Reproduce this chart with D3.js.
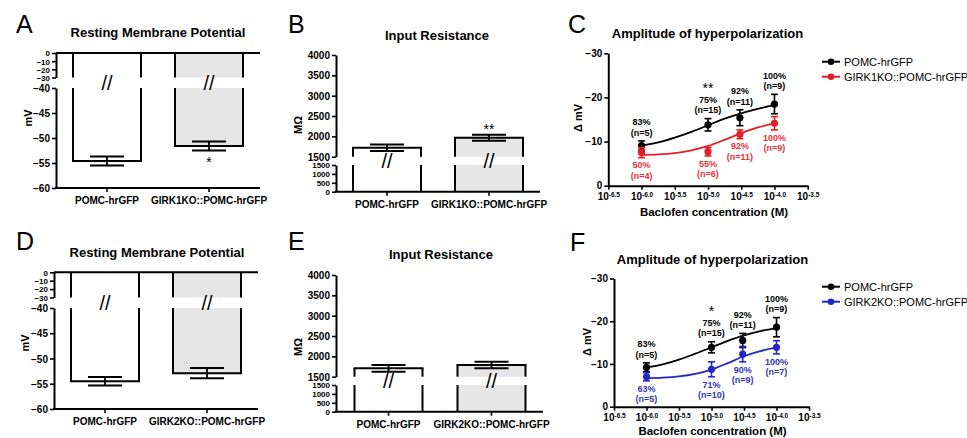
<!DOCTYPE html>
<html><head><meta charset="utf-8">
<script src="https://cdn.jsdelivr.net/npm/d3@7"></script>
<style>
body{margin:0;background:#fff;}
svg{display:block;font-family:"Liberation Sans",Arial,sans-serif;}
</style></head><body>
<svg id="c" width="967" height="438"></svg>
<script>
// ---------------- data ----------------
const groupsK1 = ["POMC-hrGFP", "GIRK1KO::POMC-hrGFP"];
const groupsK2 = ["POMC-hrGFP", "GIRK2KO::POMC-hrGFP"];
const rmpK1 = [-54.6, -51.6];
const rmpK1Sem = [0.9, 0.9];
const rmpK2 = [-54.5, -52.9];
const rmpK2Sem = [0.85, 1.0];
const irK1 = [1720, 1965];
const irK1Sem = [80, 75];
const irK2 = [1705, 1790];
const irK2Sem = [85, 80];
const rmpTicksUpper = [0, -10, -20, -30];
const rmpTicksLower = [-40, -45, -50, -55, -60];
const irTicksUpper = [1500, 2000, 2500, 3000, 3500, 4000];
const irTicksLower = [0, 500, 1000, 1500];

const logConc = [-6.0, -5.0, -4.52, -4.0];
const ampCtrlC = [-9.1, -13.8, -15.4, -18.5];
const ampCtrlCSem = [1.05, 1.4, 1.8, 2.2];
const ampK1 = [-7.5, -7.7, -11.65, -14.15];
const ampK1Sem = [1.15, 0.95, 1.0, 1.5];
const ampCtrlF = [-9.2, -13.9, -15.5, -18.6];
const ampCtrlFSem = [1.05, 1.3, 1.65, 2.25];
const ampK2 = [-7.0, -8.75, -12.3, -13.9];
const ampK2Sem = [0.95, 1.75, 1.8, 1.55];

const fitLogConc = [-6.0, -5.75, -5.5, -5.25, -5.0, -4.75, -4.5, -4.25, -4.0];
const fitCtrlC = [-9.1, -9.8, -10.9, -12.2, -13.7, -15.2, -16.4, -17.4, -18.3];
const fitK1 = [-7.0, -7.1, -7.4, -8.0, -9.0, -10.4, -11.9, -13.2, -14.1];
const fitCtrlF = [-9.2, -9.9, -11.0, -12.4, -13.9, -15.4, -16.7, -17.7, -18.4];
const fitK2 = [-6.7, -6.8, -7.1, -7.7, -8.7, -10.2, -11.8, -13.0, -13.8];

const pctCtrl = ["83%", "75%", "92%", "100%"];
const nCtrl = ["(n=5)", "(n=15)", "(n=11)", "(n=9)"];
const pctK1 = ["50%", "55%", "92%", "100%"];
const nK1 = ["(n=4)", "(n=6)", "(n=11)", "(n=9)"];
const pctK2 = ["63%", "71%", "90%", "100%"];
const nK2 = ["(n=5)", "(n=10)", "(n=9)", "(n=7)"];
const logTicks = [-6.5, -6.0, -5.5, -5.0, -4.5, -4.0, -3.5];
const ampTicks = [0, -10, -20, -30];

// ---------------- drawing ----------------
const FONT = '"Liberation Sans", Arial, sans-serif';
const RED = "#e41e26", REDT = "#e8313b";
const BLUE = "#2626c4", BLUET = "#3636b0";
const GRAY = "#e6e6e6";
const svg = d3.select("#c");

function styleAxis(sel, fs) {
  sel.attr("font-family", FONT).attr("font-size", fs || 10).attr("font-weight", "bold");
  sel.select(".domain").attr("stroke", "#000").attr("stroke-width", 2);
  sel.selectAll(".tick line").attr("stroke", "#000").attr("stroke-width", 1.6);
  sel.selectAll(".tick text").attr("fill", "#000");
}

function text(g, x, y, s, o) {
  o = o || {};
  const t = g.append("text").attr("x", x).attr("y", y).text(s)
    .attr("font-family", FONT)
    .attr("font-size", o.size || 10)
    .attr("font-weight", o.weight || "bold")
    .attr("text-anchor", o.anchor || "middle")
    .attr("fill", o.fill || "#000");
  if (o.rotate) t.attr("transform", `rotate(-90,${x},${y})`);
  if (o.dy) t.attr("dy", o.dy);
  return t;
}

function barPanel(c) {
  const g = svg.append("g");
  const x = d3.scalePoint().domain(c.cats).range(c.xRange).padding(0.5);
  const yB = d3.scaleLinear().domain(c.baseDom).range(c.baseRange);
  const yV = d3.scaleLinear().domain(c.valDom).range(c.valRange);
  const bw = 68;
  const fmt = d3.format("d");
  // y axes (two segments)
  const a1 = g.append("g").attr("transform", `translate(${c.axisX},0)`)
    .call(d3.axisLeft(yB).tickValues(c.baseTicks).tickFormat(fmt).tickSize(4).tickSizeOuter(0).tickPadding(2));
  styleAxis(a1, c.baseFs);
  const a2 = g.append("g").attr("transform", `translate(${c.axisX},0)`)
    .call(d3.axisLeft(yV).tickValues(c.valTicks).tickFormat(fmt).tickSize(4).tickSizeOuter(0).tickPadding(2));
  styleAxis(a2, c.valFs);
  a1.selectAll(".tick text").attr("dy", "0.36em");
  a2.selectAll(".tick text").attr("dy", "0.36em");

  // bars
  c.cats.forEach((cat, i) => {
    const cx = x(cat), v = c.vals[i], e = c.sems[i];
    const b0 = yB(c.baseDom[0]), b1 = yB(c.baseDom[1]);
    const v0 = yV(c.valDom[0]), v1 = yV(v);
    g.append("rect").attr("x", cx - bw / 2).attr("width", bw)
      .attr("y", Math.min(b0, b1)).attr("height", Math.abs(b1 - b0)).attr("fill", c.fills[i]);
    g.append("rect").attr("x", cx - bw / 2).attr("width", bw)
      .attr("y", Math.min(v0, v1)).attr("height", Math.abs(v1 - v0)).attr("fill", c.fills[i]);
    [cx - bw / 2, cx + bw / 2].forEach(xx => {
      g.append("line").attr("x1", xx).attr("x2", xx).attr("y1", b0).attr("y2", b1)
        .attr("stroke", "#000").attr("stroke-width", 2);
      g.append("line").attr("x1", xx).attr("x2", xx).attr("y1", v0).attr("y2", v1)
        .attr("stroke", "#000").attr("stroke-width", 2);
    });
    g.append("line").attr("x1", cx - bw / 2 - 1).attr("x2", cx + bw / 2 + 1)
      .attr("y1", v1).attr("y2", v1).attr("stroke", "#000").attr("stroke-width", 2);
    // error bar
    const ya = yV(v - e), yb = yV(v + e);
    g.append("line").attr("x1", cx).attr("x2", cx).attr("y1", ya).attr("y2", yb)
      .attr("stroke", "#000").attr("stroke-width", 1.8);
    [ya, yb].forEach(yy => g.append("line").attr("x1", cx - 17).attr("x2", cx + 17)
      .attr("y1", yy).attr("y2", yy).attr("stroke", "#000").attr("stroke-width", 2));
    // break marks
    text(g, cx, (b1 + v0) / 2, "//", { size: 20, weight: "normal", dy: "0.36em" });
    // significance
    if (c.sig && c.sig.index === i) {
      const yy = c.sig.below ? Math.max(ya, yb) + 10 : Math.min(ya, yb) - 7;
      text(g, cx, yy, c.sig.text, { size: 14, weight: "normal", dy: "0.45em" });
    }
  });

  // baseline / x axis lines
  if (c.topLine != null) {
    g.append("line").attr("x1", c.axisX).attr("x2", c.xRange[1]).attr("y1", c.topLine).attr("y2", c.topLine)
      .attr("stroke", "#000").attr("stroke-width", 2);
  }
  g.append("line").attr("x1", c.axisX - 1).attr("x2", c.xRange[1]).attr("y1", c.xAxisY).attr("y2", c.xAxisY)
    .attr("stroke", "#000").attr("stroke-width", 2);
  c.cats.forEach(cat => {
    g.append("line").attr("x1", x(cat)).attr("x2", x(cat)).attr("y1", c.xAxisY).attr("y2", c.xAxisY + 4)
      .attr("stroke", "#000").attr("stroke-width", 1.6);
    text(g, x(cat), c.xAxisY + 16, cat, { size: 10 });
  });

  text(g, c.title[0], c.title[1], c.title[2], { size: 13 });
  text(g, c.letter[0], c.letter[1], c.letter[2], { size: 25, weight: "normal", anchor: "start" });
  text(g, c.ylab[0], c.ylab[1], c.ylab[2], { size: 11, rotate: true, dy: "0.36em" });
}

function ampPanel(c) {
  const g = svg.append("g");
  const x = d3.scaleLinear().domain([-6.5, -3.5]).range(c.xRange);
  const y = d3.scaleLinear().domain([0, -30]).range(c.yRange);
  const gx = g.append("g").attr("transform", `translate(0,${y(0)})`)
    .call(d3.axisBottom(x).tickValues(logTicks).tickSize(4).tickSizeOuter(0).tickPadding(3).tickFormat(() => ""));
  styleAxis(gx, 10);
  gx.selectAll(".tick text").each(function (d) {
    const t = d3.select(this);
    t.append("tspan").text("10");
    t.append("tspan").attr("font-size", 6.5).attr("dy", "-0.45em").text(d.toFixed(1));
  });
  const gy = g.append("g").attr("transform", `translate(${c.xRange[0]},0)`)
    .call(d3.axisLeft(y).tickValues(ampTicks).tickSize(4).tickSizeOuter(0).tickPadding(2));
  styleAxis(gy, 10);

  const line = d3.line().x(d => x(d[0])).y(d => y(d[1])).curve(d3.curveMonotoneX);
  const series = [
    { vals: c.ctrl, sems: c.ctrlSem, fit: c.ctrlFit, col: "#000", tcol: "#000", pct: pctCtrl, n: nCtrl, above: true },
    { vals: c.ko, sems: c.koSem, fit: c.koFit, col: c.col, tcol: c.tcol, pct: c.koPct, n: c.koN, above: false }
  ];
  series.forEach(s => {
    g.append("path").attr("d", line(fitLogConc.map((lc, i) => [lc, s.fit[i]])))
      .attr("fill", "none").attr("stroke", s.col).attr("stroke-width", 1.8);
    logConc.forEach((lc, i) => {
      const px = x(lc), v = s.vals[i], e = s.sems[i];
      const yt = y(v - e), yb = y(v + e);
      g.append("line").attr("x1", px).attr("x2", px).attr("y1", yt).attr("y2", yb)
        .attr("stroke", s.col).attr("stroke-width", 1.6);
      [yt, yb].forEach(yy => g.append("line").attr("x1", px - 3.5).attr("x2", px + 3.5)
        .attr("y1", yy).attr("y2", yy).attr("stroke", s.col).attr("stroke-width", 1.6));
      g.append("circle").attr("cx", px).attr("cy", y(v)).attr("r", 3.6).attr("fill", s.col);
      if (s.above) {
        const ny = yt - 8.5, py = ny - 10.5;
        text(g, px, ny, s.n[i], { size: 9, fill: s.tcol, dy: "0.36em" });
        text(g, px, py, s.pct[i], { size: 9, fill: s.tcol, dy: "0.36em" });
        if (c.sig && c.sig.index === i) text(g, px, py - 14, c.sig.text, { size: 14, weight: "normal", dy: "0.5em" });
      } else {
        const py = yb + 7.5, ny = py + 10.5;
        text(g, px, py, s.pct[i], { size: 9, fill: s.tcol, dy: "0.36em" });
        text(g, px, ny, s.n[i], { size: 9, fill: s.tcol, dy: "0.36em" });
      }
    });
  });

  // legend
  const lg = c.legend;
  [["POMC-hrGFP", "#000"], [c.koName, c.col]].forEach((d, i) => {
    const yy = lg[1] + i * 15;
    g.append("line").attr("x1", lg[0]).attr("x2", lg[0] + 18).attr("y1", yy).attr("y2", yy)
      .attr("stroke", d[1]).attr("stroke-width", 2);
    g.append("circle").attr("cx", lg[0] + 9).attr("cy", yy).attr("r", 3.3).attr("fill", d[1]);
    text(g, lg[0] + 22, yy, d[0], { size: 11, weight: "normal", anchor: "start", dy: "0.36em" });
  });

  text(g, c.title[0], c.title[1], "Amplitude of hyperpolarization", { size: 13 });
  text(g, c.letter[0], c.letter[1], c.letter[2], { size: 25, weight: "normal", anchor: "start" });
  text(g, c.ylab[0], c.ylab[1], "\u0394 mV", { size: 11, rotate: true, dy: "0.36em" });
  text(g, c.xlab[0], c.xlab[1], "Baclofen concentration (M)", { size: 11.5 });
}

// Panel A
barPanel({
  cats: groupsK1, vals: rmpK1, sems: rmpK1Sem, fills: ["#fff", GRAY],
  axisX: 56, xRange: [56, 260],
  baseDom: [0, -30], baseRange: [53, 77.5], baseTicks: rmpTicksUpper, baseFs: 8,
  valDom: [-40, -60], valRange: [88, 188], valTicks: rmpTicksLower, valFs: 10,
  topLine: 53, xAxisY: 188, sig: { index: 1, text: "*", below: true },
  title: [158, 37, "Resting Membrane Potential"], letter: [16, 33, "A"], ylab: [28, 118, "mV"]
});
// Panel D
barPanel({
  cats: groupsK2, vals: rmpK2, sems: rmpK2Sem, fills: ["#fff", GRAY],
  axisX: 54, xRange: [54, 258],
  baseDom: [0, -30], baseRange: [272.3, 297.5], baseTicks: rmpTicksUpper, baseFs: 8,
  valDom: [-40, -60], valRange: [308, 409], valTicks: rmpTicksLower, valFs: 10,
  topLine: 272.3, xAxisY: 409, sig: null,
  title: [157, 257, "Resting Membrane Potential"], letter: [16, 250, "D"], ylab: [25, 343, "mV"]
});
// Panel B
barPanel({
  cats: groupsK1, vals: irK1, sems: irK1Sem, fills: ["#fff", GRAY],
  axisX: 336, xRange: [336, 540],
  baseDom: [0, 1500], baseRange: [191.7, 165], baseTicks: irTicksLower, baseFs: 8,
  valDom: [1500, 4000], valRange: [156.7, 55], valTicks: irTicksUpper, valFs: 10,
  topLine: null, xAxisY: 191.7, sig: { index: 1, text: "**", below: false },
  title: [437, 40, "Input Resistance"], letter: [288, 33, "B"], ylab: [298, 125, "M\u03a9"]
});
// Panel E
barPanel({
  cats: groupsK2, vals: irK2, sems: irK2Sem, fills: ["#fff", GRAY],
  axisX: 336, xRange: [337, 543],
  baseDom: [0, 1500], baseRange: [411.7, 385], baseTicks: irTicksLower, baseFs: 8,
  valDom: [1500, 4000], valRange: [376.7, 275], valTicks: irTicksUpper, valFs: 10,
  topLine: null, xAxisY: 411.7, sig: null,
  title: [441, 258.5, "Input Resistance"], letter: [288, 250, "E"], ylab: [298, 347, "M\u03a9"]
});
// Panel C
ampPanel({
  xRange: [608.3, 807.7], yRange: [185.7, 53.3],
  ctrl: ampCtrlC, ctrlSem: ampCtrlCSem, ctrlFit: fitCtrlC,
  ko: ampK1, koSem: ampK1Sem, koFit: fitK1, col: RED, tcol: REDT, koPct: pctK1, koN: nK1,
  koName: "GIRK1KO::POMC-hrGFP", sig: { index: 1, text: "**" },
  legend: [822, 61.7], title: [707.5, 37.5], letter: [568, 33, "C"], ylab: [578, 118], xlab: [714, 215.5]
});
// Panel F
ampPanel({
  xRange: [614, 809], yRange: [406.7, 278.5],
  ctrl: ampCtrlF, ctrlSem: ampCtrlFSem, ctrlFit: fitCtrlF,
  ko: ampK2, koSem: ampK2Sem, koFit: fitK2, col: BLUE, tcol: BLUET, koPct: pctK2, koN: nK2,
  koName: "GIRK2KO::POMC-hrGFP", sig: { index: 1, text: "*" },
  legend: [822, 286.7], title: [712.5, 263.5], letter: [570, 251, "F"], ylab: [587, 342], xlab: [712.5, 435]
});
</script></body></html>
